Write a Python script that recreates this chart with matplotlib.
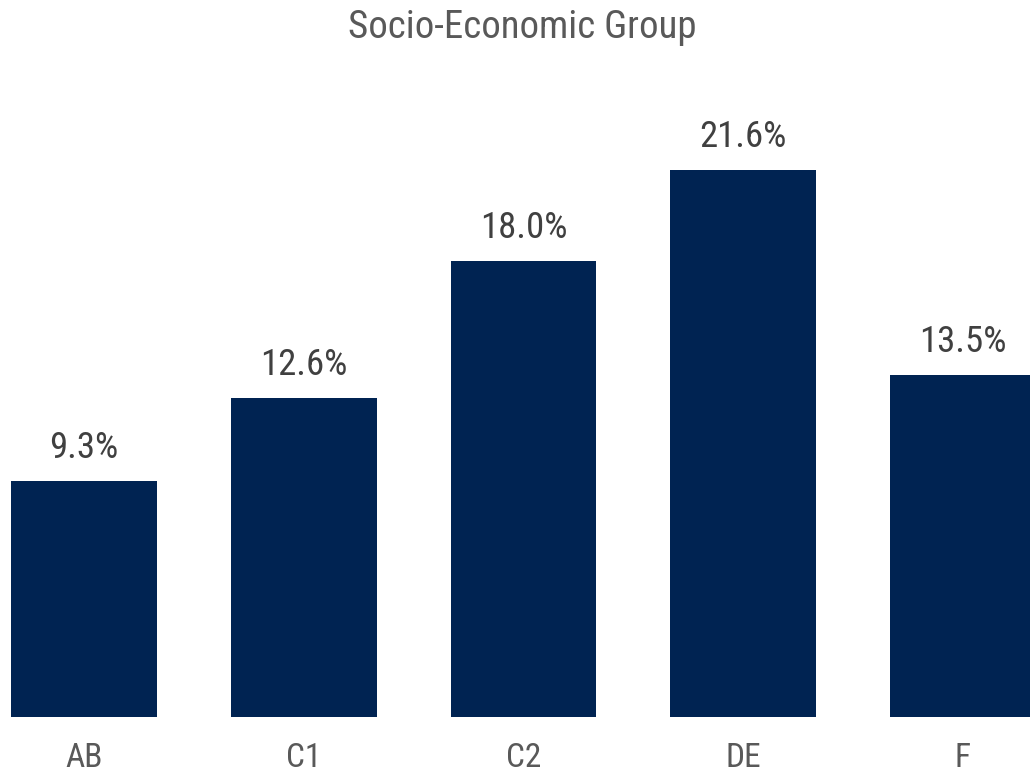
import matplotlib
matplotlib.use("Agg")
import matplotlib.pyplot as plt
from matplotlib import font_manager

categories = ["AB", "C1", "C2", "DE", "F"]
values = [9.3, 12.6, 18.0, 21.6, 13.5]
title = "Socio-Economic Group"

names = {f.name for f in font_manager.fontManager.ttflist}
cands = ["Liberation Sans Narrow", "Arial Narrow", "Roboto Condensed", "Archivo Narrow",
         "PT Sans Narrow", "Open Sans Condensed", "Pragati Narrow", "Liberation Sans"]
fam = [c for c in cands if c in names][:1] + ["DejaVu Sans"]
plt.rcParams["font.family"] = fam

fig = plt.figure(figsize=(10.30, 7.69), dpi=100)
ax = fig.add_axes([0, 1 - 717 / 769, 1, 717 / 769])
x = list(range(len(categories)))
bars = ax.bar(x, values, width=0.664, color="#002352")
for xi, v in zip(x, values):
    ax.text(xi, v + 0.6, f"{v:.1f}%", ha="center", va="bottom", fontsize=26.5, color="#404040")
ax.set_xlim(-0.382, 4.305)
ax.set_ylim(0, 28.3)
ax.set_xticks(x)
ax.set_xticklabels(categories, fontsize=24, color="#595959")
ax.tick_params(axis="x", length=0, pad=18)
ax.set_yticks([])
for s in ax.spines.values():
    s.set_visible(False)
fig.text(0.507, 1 - 28 / 769, title, ha="center", va="center", fontsize=28, color="#595959")
fig.savefig("out.png", dpi=100)
